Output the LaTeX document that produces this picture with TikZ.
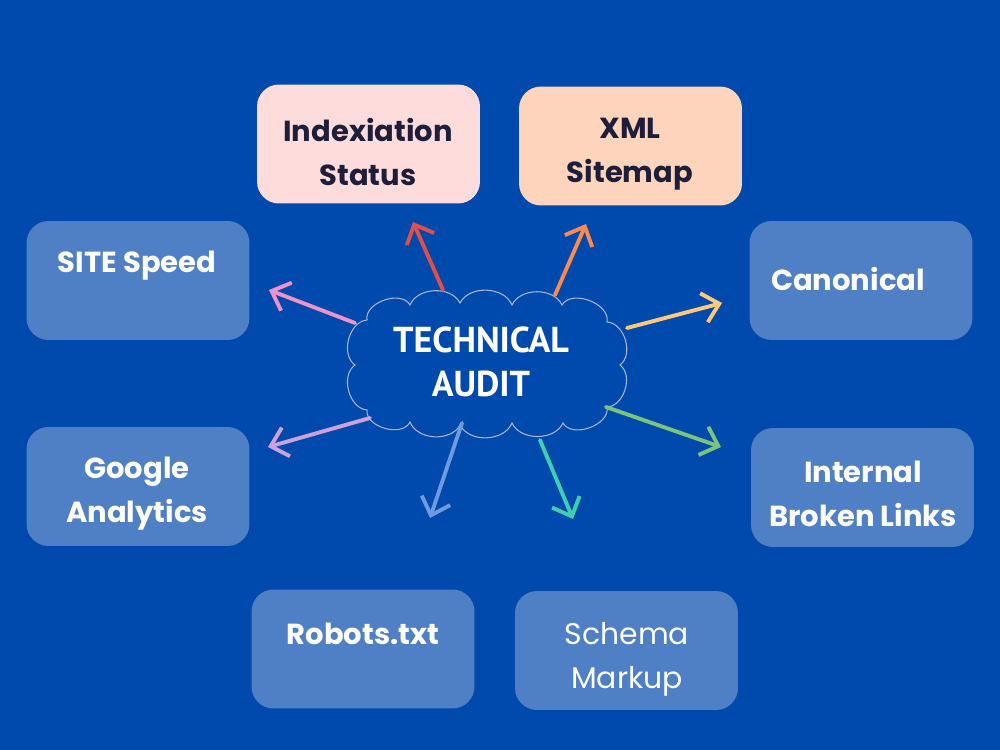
\documentclass[tikz,border=0pt]{standalone}
\usepackage{fontspec}
\setmainfont{Poppins}
\newfontfamily\cloudfont{PT Sans}
\usetikzlibrary{arrows.meta}
\definecolor{bg}{HTML}{004AAD}
\definecolor{boxblue}{HTML}{4F80C6}
\definecolor{pinkbox}{HTML}{FEDCDC}
\definecolor{peachbox}{HTML}{FFD4BD}
\definecolor{navytext}{HTML}{1E1E3A}
\definecolor{cloudline}{HTML}{A8B6D6}
\definecolor{apink}{HTML}{EE92C8}
\definecolor{ared}{HTML}{E0504A}
\definecolor{aorange}{HTML}{FF8A50}
\definecolor{ayellow}{HTML}{FFC978}
\definecolor{agreen}{HTML}{7CC47A}
\definecolor{ateal}{HTML}{3ECFB0}
\definecolor{aperi}{HTML}{6E9AE0}
\definecolor{alilac}{HTML}{D0A0DA}
\begin{document}
\begin{tikzpicture}[x=0.02cm,y=-0.02cm,
  box/.style={rounded corners=12.5pt, minimum width=4.46cm, minimum height=2.38cm, inner sep=0pt},
  lbl/.style={font=\fontsize{16.5}{25}\selectfont\bfseries, text=white, align=center, inner sep=0pt},
  dlbl/.style={lbl, text=navytext},
  arr/.style={line width=2.2pt, line cap=round, -{Straight Barb[length=9pt,width=17pt]}}]
\fill[bg] (0,0) rectangle (1000,750);
\useasboundingbox (0,0) rectangle (1000,750);
% boxes
\node[box, fill=pinkbox] (idx) at (368.5,144) {};
\node[box, fill=peachbox] (xml) at (630.5,146) {};
\node[box, fill=boxblue] (site) at (138,280.5) {};
\node[box, fill=boxblue] (canon) at (861,280.5) {};
\node[box, fill=boxblue] (ga) at (138,486.5) {};
\node[box, fill=boxblue] (ibl) at (862.5,487.5) {};
\node[box, fill=boxblue] (rob) at (363,649) {};
\node[box, fill=boxblue] (sch) at (626.5,650.5) {};
% labels
\node[dlbl] (idxt) at (368,152) {Indexiation\\Status};
\node[dlbl] (xmlt) at (630,154) {XML\\Sitemap};
\node[lbl] (sitet) at (137,266) {SITE Speed};
\node[lbl] (canont) at (848,279) {Canonical};
\node[lbl] (gat) at (137,494) {Google\\Analytics};
\node[lbl] (iblt) at (863,494) {Internal\\Broken Links};
\node[lbl] (robt) at (363,634) {Robots.txt};
\node[lbl, font=\fontsize{17}{25}\selectfont] (scht) at (627,659) {Schema\\Markup};
% cloud
\draw[cloudline, line width=0.6pt, fill=bg]
  (367,320) to[bend left=80] (410,305) to[bend left=65] (460,303)
  to[bend left=65] (512,305) to[bend left=65] (562,305)
  to[bend left=80] (607,322) to[bend left=70] (620,365)
  to[bend left=70] (607,407) to[bend left=80] (563,423)
  to[bend left=65] (512,423) to[bend left=65] (460,425)
  to[bend left=65] (410,422) to[bend left=80] (367,410)
  to[bend left=70] (355,365) to[bend left=70] cycle;
\node[font=\cloudfont\fontsize{20.5}{25}\selectfont\bfseries, text=white, align=center, inner sep=0pt] (cloud) at (481,362) {TECHNICAL\\AUDIT};
% arrow endpoints
\coordinate (s1) at (355,323); \coordinate (e1) at (269,290);
\coordinate (s2) at (443,290); \coordinate (e2) at (413,222);
\coordinate (s3) at (555,295); \coordinate (e3) at (586,224);
\coordinate (s4) at (627,328); \coordinate (e4) at (722,303);
\coordinate (s5) at (606,407); \coordinate (e5) at (721,447);
\coordinate (s6) at (540,440); \coordinate (e6) at (573,519);
\coordinate (s7) at (462,423); \coordinate (e7) at (430,518);
\coordinate (s8) at (370,418); \coordinate (e8) at (268,447);
\draw[arr, apink] (s1) -- (e1);
\draw[arr, ared] (s2) -- (e2);
\draw[arr, aorange] (s3) -- (e3);
\draw[arr, ayellow] (s4) -- (e4);
\draw[arr, agreen] (s5) -- (e5);
\draw[arr, ateal] (s6) -- (e6);
\draw[arr, aperi] (s7) -- (e7);
\draw[arr, alilac] (s8) -- (e8);
\end{tikzpicture}
\end{document}
